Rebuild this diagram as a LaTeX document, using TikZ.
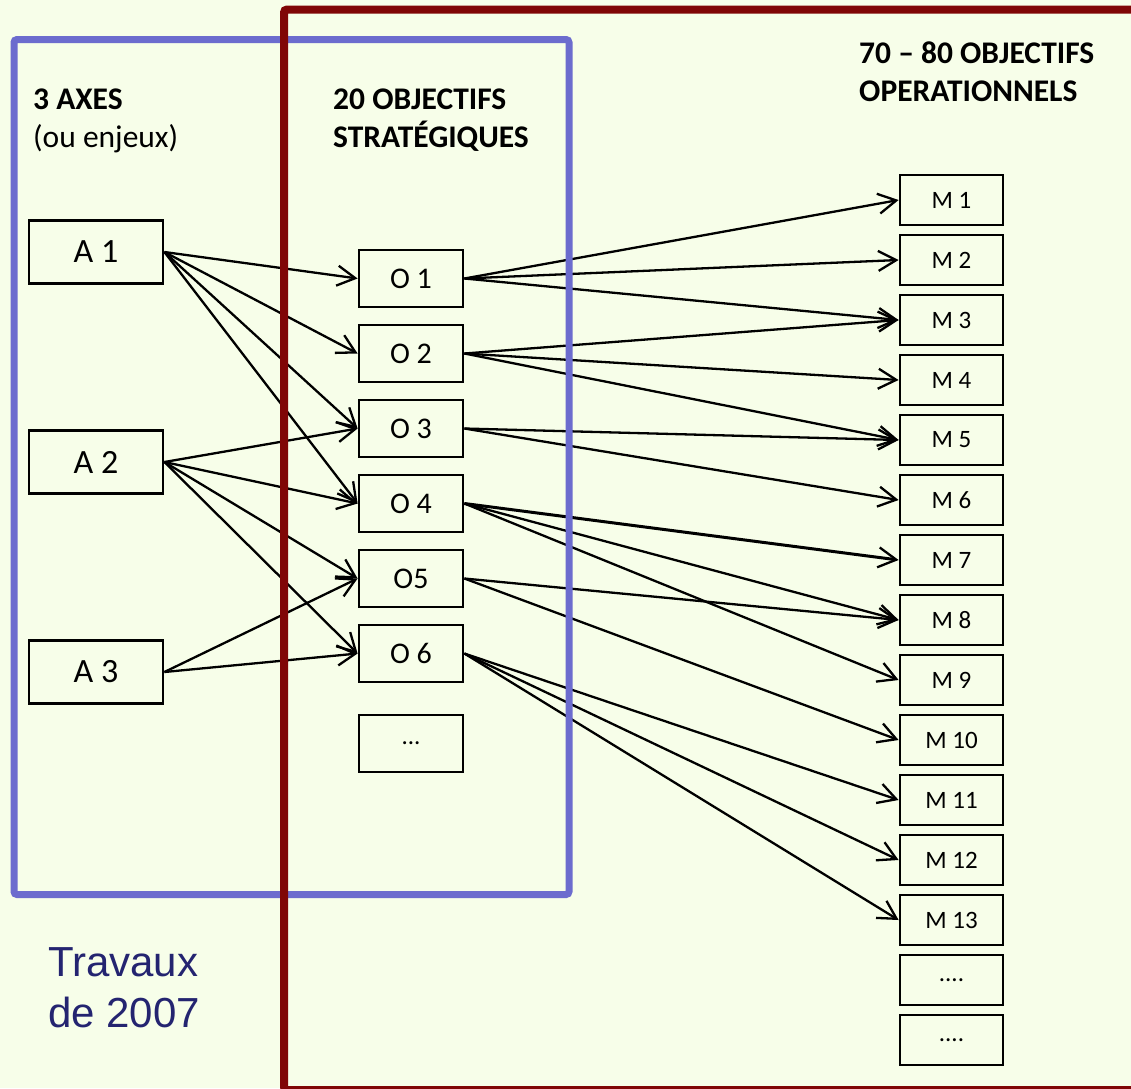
\documentclass[tikz,border=0pt]{standalone}
\usepackage{fontspec}
\setmainfont{Carlito}
\newfontfamily\arialfont{Liberation Sans}
\usetikzlibrary{arrows.meta}
\definecolor{bgcol}{RGB}{247,254,233}
\definecolor{axeblue}{RGB}{108,108,206}
\definecolor{opred}{RGB}{128,6,6}
\definecolor{navytxt}{RGB}{36,36,112}

\begin{document}
\begin{tikzpicture}[x=1pt,y=-1pt]
\tikzstyle{abox}=[draw,line width=2.8pt,fill=bgcol,minimum width=134pt,minimum height=63pt,font=\fontsize{34}{40}\selectfont]
\tikzstyle{obox}=[draw,line width=2.8pt,fill=bgcol,minimum width=104pt,minimum height=57pt,font=\fontsize{30}{36}\selectfont]
\tikzstyle{mbox}=[draw,line width=2.8pt,fill=bgcol,minimum width=103pt,minimum height=50pt,font=\fontsize{25}{30}\selectfont]
\tikzstyle{title}=[anchor=base west,align=left,inner sep=0pt,font=\bfseries\fontsize{31.5}{38}\selectfont]
\tikzstyle{arr}=[line width=2.3pt,-{Straight Barb[length=18pt,width=20pt,line width=2.3pt]}]
\useasboundingbox (0,0) rectangle (1131,1088);
\fill[bgcol] (0,0) rectangle (1131,1088);
% column titles (anchored on the second line)
\node[title] (taxes) at (33,147) {3 AXES\\\textmd{(ou enjeux)}};
\node[title] (tstrat) at (333,147) {20 OBJECTIFS\\STRATÉGIQUES};
\node[title] (toper) at (859,101) {70 -- 80 OBJECTIFS\\OPERATIONNELS};
\node[anchor=base west,align=left,inner sep=0pt,text=navytxt,font=\arialfont\fontsize{42}{51}\selectfont] (trav) at (48,1027) {Travaux\\de 2007};
% axes
\draw (96,252) node (a1) [abox] {A 1};
\draw (96,462) node (a2) [abox] {A 2};
\draw (96,672) node (a3) [abox] {A 3};
% strategic objectives
\draw (411,278.5) node (o1) [obox] {O 1};
\draw (411,353.5) node (o2) [obox] {O 2};
\draw (411,428.5) node (o3) [obox] {O 3};
\draw (411,503.5) node (o4) [obox] {O 4};
\draw (411,578.5) node (o5) [obox] {O5};
\draw (411,653.5) node (o6) [obox] {O 6};
\draw (411,743.5) node (o7) [obox,font=\fontsize{25}{30}\selectfont] {...};
% operational objectives
\draw (951.5,200) node (m1) [mbox] {M 1};
\draw (951.5,260) node (m2) [mbox] {M 2};
\draw (951.5,320) node (m3) [mbox] {M 3};
\draw (951.5,380) node (m4) [mbox] {M 4};
\draw (951.5,440) node (m5) [mbox] {M 5};
\draw (951.5,500) node (m6) [mbox] {M 6};
\draw (951.5,560) node (m7) [mbox] {M 7};
\draw (951.5,620) node (m8) [mbox] {M 8};
\draw (951.5,680) node (m9) [mbox] {M 9};
\draw (951.5,740) node (m10) [mbox] {M 10};
\draw (951.5,800) node (m11) [mbox] {M 11};
\draw (951.5,860) node (m12) [mbox] {M 12};
\draw (951.5,920) node (m13) [mbox] {M 13};
\draw (951.5,980) node (m14) [mbox] {....};
\draw (951.5,1040) node (m15) [mbox] {....};
% axes -> strategic
\draw[arr] (a1.east) -- (o1.west);
\draw[arr] (a1.east) -- (o2.west);
\draw[arr] (a1.east) -- (o3.west);
\draw[arr] (a1.east) -- (o4.west);
\draw[arr] (a2.east) -- (o3.west);
\draw[arr] (a2.east) -- (o4.west);
\draw[arr] (a2.east) -- (o5.west);
\draw[arr] (a2.east) -- (o6.west);
\draw[arr] (a3.east) -- (o5.west);
\draw[arr] (a3.east) -- (o6.west);
% strategic -> operational
\draw[arr] (o1.east) -- (m1.west);
\draw[arr] (o1.east) -- (m2.west);
\draw[arr] (o1.east) -- (m3.west);
\draw[arr] (o2.east) -- (m3.west);
\draw[arr] (o2.east) -- (m4.west);
\draw[arr] (o2.east) -- (m5.west);
\draw[arr] (o3.east) -- (m5.west);
\draw[arr] (o3.east) -- (m6.west);
\draw[arr,line width=3pt] (o4.east) -- (m7.west);
\draw[arr] (o4.east) -- (m8.west);
\draw[arr] (o4.east) -- (m9.west);
\draw[arr] (o5.east) -- (m8.west);
\draw[arr] (o5.east) -- (m10.west);
\draw[arr] (o6.east) -- (m11.west);
\draw[arr] (o6.east) -- (m12.west);
\draw[arr] (o6.east) -- (m13.west);
% frames
\draw[axeblue,line width=7pt,rounded corners=3pt] (14,39.5) rectangle (569,894.5);
\draw[opred,line width=8pt,rounded corners=3pt] (284,9.5) rectangle (1150,1090);
\end{tikzpicture}
\end{document}
